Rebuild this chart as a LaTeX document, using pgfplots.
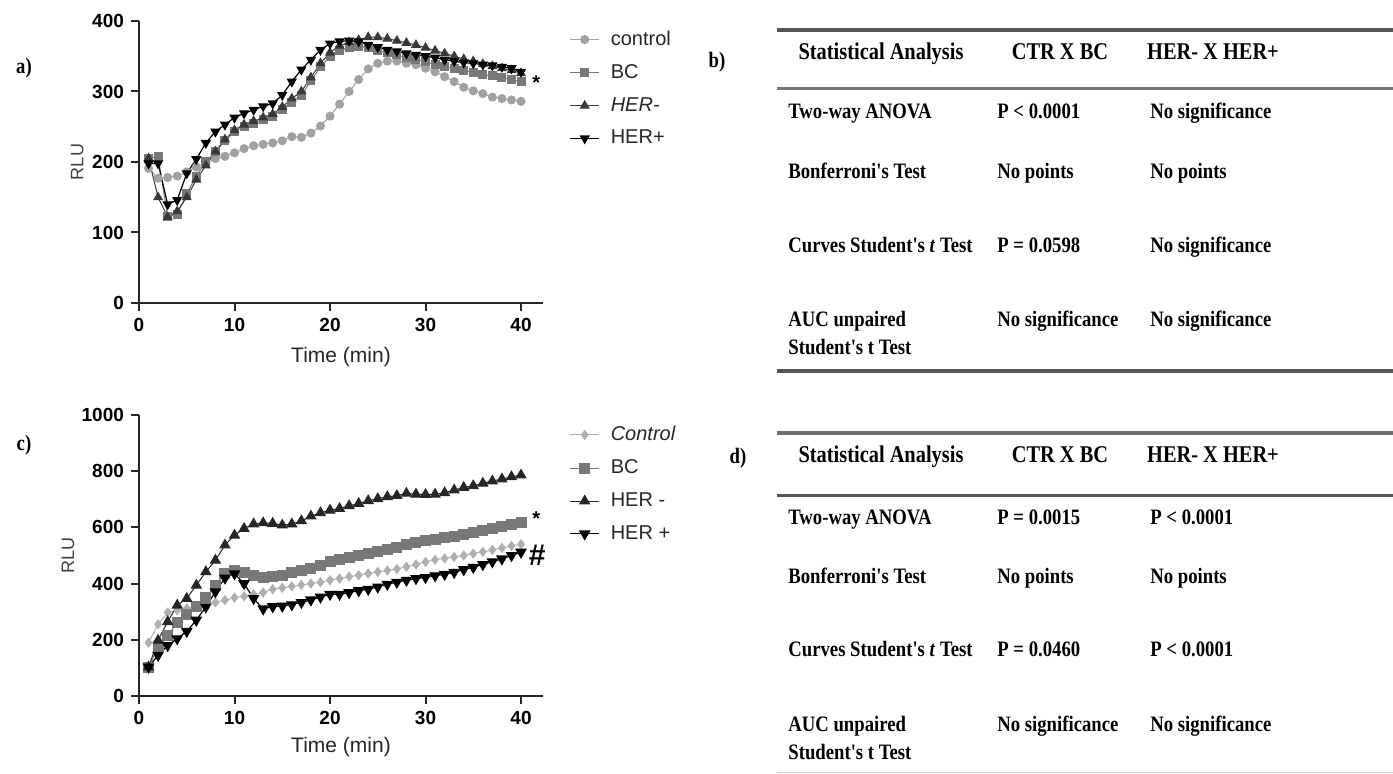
\documentclass[border=0pt]{standalone}
\usepackage{fontspec}
\setmainfont{Liberation Sans}
\newfontfamily\tabfont[FakeStretch=0.85]{Liberation Serif}
\usepackage{pgfplots}
\usepackage{pgfplotstable}
\pgfplotsset{compat=1.18}

\definecolor{ctrlgray}{gray}{0.63}
\definecolor{bcgray}{gray}{0.47}
\definecolor{hermgray}{gray}{0.22}
\definecolor{rulegray}{gray}{0.33}

% panel a: t control BC HER- HER+
\pgfplotstableread{
t ctrl bc herm herp
1 191 205 205 198
2 177 208 150 198
3 178 122 122 140
4 180 126 130 146
5 186 155 150 184
6 193 180 175 204
7 198 200 195 227
8 205 215 215 243
9 208 230 232 253
10 213 243 245 263
11 219 250 253 269
12 223 255 258 274
13 225 260 263 279
14 227 265 268 283
15 230 275 278 295
16 236 285 290 314
17 235 295 300 331
18 241 315 320 345
19 251 335 340 359
20 265 350 355 368
21 282 358 365 371
22 300 362 370 372
23 317 364 373 371
24 332 362 377 366
25 340 358 377 363
26 343 355 375 359
27 343 352 372 357
28 340 348 369 354
29 338 345 366 352
30 333 342 362 350
31 328 338 358 348
32 321 335 354 345
33 314 332 350 343
34 306 330 346 341
35 301 327 343 340
36 297 324 339 338
37 292 322 336 337
38 290 320 333 335
39 288 317 330 333
40 286 314 326 328
}\dataA

% panel c
\pgfplotstableread{
t ctrl bc herm herp
1 190 100 103 103
2 255 175 198 145
3 297 216 264 180
4 305 260 323 204
5 312 290 347 230
6 318 317 394 270
7 325 350 442 317
8 333 395 483 371
9 341 435 537 420
10 350 445 572 435
11 355 440 596 400
12 362 428 612 347
13 368 420 616 310
14 380 425 614 318
15 385 430 608 320
16 390 438 612 325
17 395 447 623 333
18 400 455 640 342
19 405 465 652 352
20 412 480 661 362
21 418 486 667 362
22 425 492 677 368
23 430 500 685 375
24 436 508 695 380
25 442 516 702 388
26 447 523 709 398
27 452 530 713 405
28 460 538 721 412
29 468 545 718 418
30 477 553 717 422
31 485 558 718 428
32 490 563 723 433
33 495 569 733 440
34 500 575 742 450
35 507 581 748 458
36 513 589 757 468
37 520 597 765 478
38 527 604 772 488
39 534 611 780 500
40 540 618 786 512
}\dataC

\pgfplotsset{
  gp/.style={
    scale only axis,
    width=202pt,
    xmin=0, xmax=42.3, ymin=0,
    axis x line*=bottom,
    axis y line*=left,
    axis line style={-, line width=1pt, black!85},
    xtick={0,10,20,30,40},
    tick align=outside,
    major tick length=4pt,
    tick style={line width=1pt, black!85},
    ticklabel style={font=\fontsize{9.5}{10}\selectfont\bfseries},
    /pgf/number format/assume math mode=true,
    /pgf/number format/1000 sep={},
    clip=false,
    xlabel={Time (min)},
    ylabel={RLU},
    xlabel style={font=\fontsize{10.5}{12}\selectfont, text=black!85, anchor=center},
    ylabel style={font=\fontsize{9}{10}\selectfont, text=black!75, anchor=center},
    legend style={draw=none, fill=none, anchor=north west,
      font=\fontsize{10}{11}\selectfont, text=black!85, row sep=4pt},
    legend cell align=left,
    legend image code/.code={%
      \draw[mark repeat=2,mark phase=2,##1]
        plot coordinates {(0pt,0pt)(7.25pt,0pt)(14.5pt,0pt)};},
  },
}

\newcommand{\tabhead}{\tabfont\bfseries\fontsize{12}{14}\selectfont}
\newcommand{\tabbody}{\tabfont\bfseries\fontsize{11}{13}\selectfont}
\newcommand{\legtxt}[1]{\hspace{3.5pt}#1}

\begin{document}
\begin{tikzpicture}[x=0.5pt,y=0.5pt]
\useasboundingbox (0,0) rectangle (1393,-774);

% ---------------- panel a ----------------
\begin{axis}[gp,
    at={(69.5pt,-151.5pt)}, anchor=south west,
    height=141pt, ymax=400,
    ytick={0,100,200,300,400},
    xlabel style={at={(axis description cs:0.5,-0.191)}},
    ylabel style={at={(axis description cs:-0.153,0.5)}},
    legend style={at={(axis description cs:1.05,0.995)}},
  ]
\addplot[ctrlgray, line width=0.5pt, mark=*, mark size=2pt,
  mark options={fill=ctrlgray, draw=ctrlgray}] table[x=t,y=ctrl] {\dataA};
\addlegendentry{\legtxt{control}}
\addplot[bcgray, line width=0.5pt, mark=square*, mark size=2pt,
  mark options={fill=bcgray, draw=bcgray}] table[x=t,y=bc] {\dataA};
\addlegendentry{\legtxt{BC}}
\addplot[hermgray, line width=0.5pt, mark=triangle*, mark size=2.4pt,
  mark options={fill=hermgray, draw=hermgray}] table[x=t,y=herm] {\dataA};
\addlegendentry{\legtxt{\textit{HER-}}}
\addplot[black, line width=0.6pt, mark=triangle*, mark size=2.4pt,
  mark options={fill=black, draw=black, rotate=180}] table[x=t,y=herp] {\dataA};
\addlegendentry{\legtxt{HER+}}
\node[font=\fontsize{10}{10}\selectfont\bfseries] at (axis cs:41.6,313) {*};
\end{axis}

% ---------------- panel c ----------------
\begin{axis}[gp,
    at={(69.5pt,-348pt)}, anchor=south west,
    height=140.5pt, ymax=1000,
    ytick={0,200,400,600,800,1000},
    xlabel style={at={(axis description cs:0.5,-0.181)}},
    ylabel style={at={(axis description cs:-0.176,0.5)}},
    legend style={at={(axis description cs:1.05,0.99)}},
  ]
\addplot[ctrlgray!85, line width=0.5pt, mark=diamond*, mark size=2.2pt,
  mark options={fill=ctrlgray!85, draw=ctrlgray!85}] table[x=t,y=ctrl] {\dataC};
\addlegendentry{\legtxt{\textit{Control}}}
\addplot[bcgray, line width=0.5pt, mark=square*, mark size=2.5pt,
  mark options={fill=bcgray, draw=bcgray}] table[x=t,y=bc] {\dataC};
\addlegendentry{\legtxt{BC}}
\addplot[black!85, line width=0.5pt, mark=triangle*, mark size=2.8pt,
  mark options={fill=black!85, draw=black!85}] table[x=t,y=herm] {\dataC};
\addlegendentry{\legtxt{HER -}}
\addplot[black, line width=0.6pt, mark=triangle*, mark size=2.8pt,
  mark options={fill=black, draw=black, rotate=180}] table[x=t,y=herp] {\dataC};
\addlegendentry{\legtxt{HER +}}
\node[font=\fontsize{10}{10}\selectfont\bfseries] at (axis cs:41.6,630) {*};
\node[font=\fontsize{15}{15}\selectfont\bfseries] at (axis cs:41.7,500) {\#};
\end{axis}

% ---------------- panel labels ----------------
\node[font=\tabfont\bfseries\fontsize{11}{12}\selectfont] at (24,-68) {a)};
\node[font=\tabfont\bfseries\fontsize{11}{12}\selectfont] at (717,-62) {b)};
\node[font=\tabfont\bfseries\fontsize{11}{12}\selectfont] at (24,-445) {c)};
\node[font=\tabfont\bfseries\fontsize{11}{12}\selectfont] at (738,-458) {d)};

% ---------------- table b ----------------
\draw[line width=2pt, rulegray] (777,-30) -- (1393,-30);
\draw[line width=1.5pt, rulegray!80] (777,-89) -- (1393,-89);
\draw[line width=2pt, rulegray] (777,-371) -- (1393,-371);
\begin{scope}[every node/.style={anchor=base, font=\tabhead, inner sep=0pt}]
\node at (881,-60) {Statistical Analysis};
\node at (1060,-60) {CTR X BC};
\node at (1213,-60) {HER- X HER+};
\end{scope}
\begin{scope}[every node/.style={anchor=base west, font=\tabbody, inner sep=0pt}]
\node at (788,-119) {Two-way ANOVA};
\node at (997,-119) {P < 0.0001};
\node at (1150,-119) {No significance};
\node at (788,-179) {Bonferroni's Test};
\node at (997,-179) {No points};
\node at (1150,-179) {No points};
\node at (788,-253) {Curves Student's \textit{t} Test};
\node at (997,-253) {P = 0.0598};
\node at (1150,-253) {No significance};
\node at (788,-327) {AUC unpaired};
\node at (788,-355) {Student's t Test};
\node at (997,-327) {No significance};
\node at (1150,-327) {No significance};
\end{scope}

% ---------------- table d ----------------
\draw[line width=2pt, rulegray!85] (777,-433) -- (1393,-433);
\draw[line width=1.5pt, rulegray] (777,-496) -- (1393,-496);
\draw[line width=0.5pt, gray!40] (777,-773) -- (1393,-773);
\begin{scope}[every node/.style={anchor=base, font=\tabhead, inner sep=0pt}]
\node at (881,-463) {Statistical Analysis};
\node at (1060,-463) {CTR X BC};
\node at (1213,-463) {HER- X HER+};
\end{scope}
\begin{scope}[every node/.style={anchor=base west, font=\tabbody, inner sep=0pt}]
\node at (788,-525) {Two-way ANOVA};
\node at (997,-525) {P = 0.0015};
\node at (1150,-525) {P < 0.0001};
\node at (788,-584) {Bonferroni's Test};
\node at (997,-584) {No points};
\node at (1150,-584) {No points};
\node at (788,-657) {Curves Student's \textit{t} Test};
\node at (997,-657) {P = 0.0460};
\node at (1150,-657) {P < 0.0001};
\node at (788,-732) {AUC unpaired};
\node at (788,-760) {Student's t Test};
\node at (997,-732) {No significance};
\node at (1150,-732) {No significance};
\end{scope}
\end{tikzpicture}
\end{document}
